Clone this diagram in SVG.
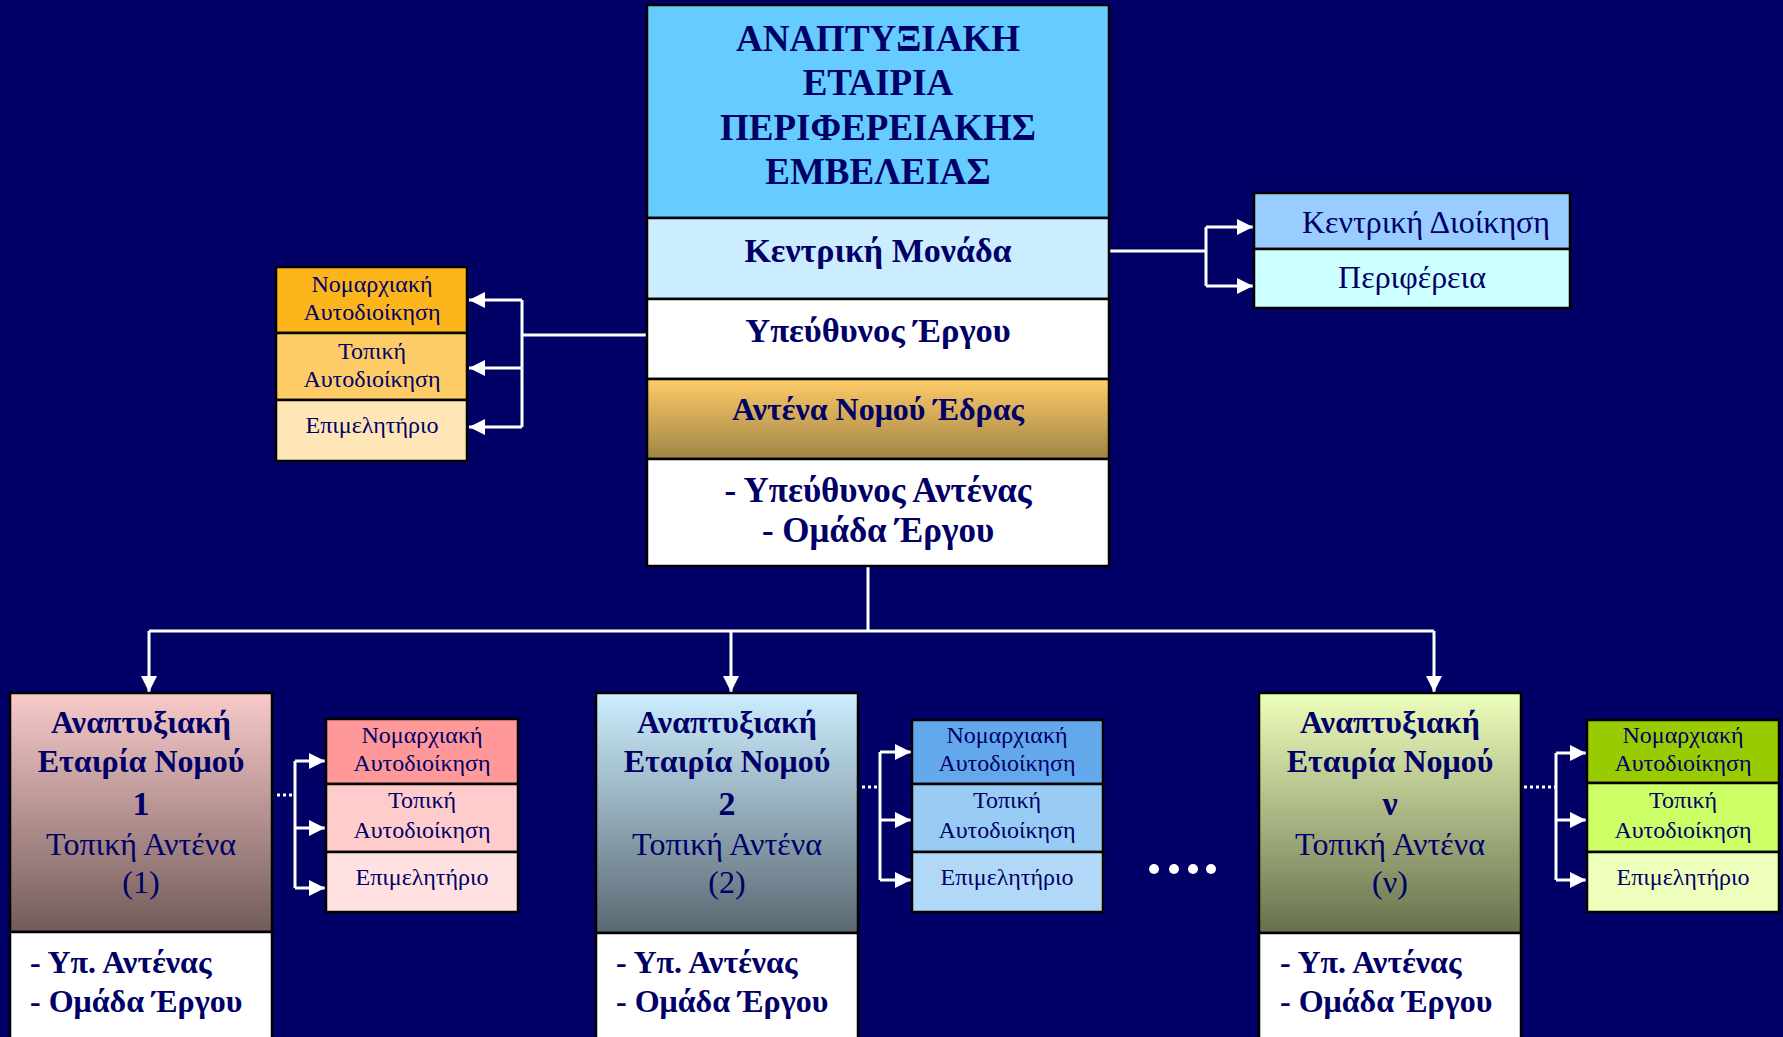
<svg xmlns="http://www.w3.org/2000/svg" width="1783" height="1037" viewBox="0 0 1783 1037">
<defs>
<linearGradient id="gGold" x1="0" y1="0" x2="0" y2="1"><stop offset="0" stop-color="#FECB68"/><stop offset="1" stop-color="#A08446"/></linearGradient>
<linearGradient id="gPink" x1="0" y1="0" x2="0" y2="1"><stop offset="0" stop-color="#F9CACA"/><stop offset="1" stop-color="#715C5A"/></linearGradient>
<linearGradient id="gBlue" x1="0" y1="0" x2="0" y2="1"><stop offset="0" stop-color="#CCEEFF"/><stop offset="1" stop-color="#5A6872"/></linearGradient>
<linearGradient id="gGreen" x1="0" y1="0" x2="0" y2="1"><stop offset="0" stop-color="#EEFFBB"/><stop offset="1" stop-color="#67704E"/></linearGradient>
<marker id="ah" viewBox="0 0 10 10" refX="10" refY="5" markerWidth="16" markerHeight="16" markerUnits="userSpaceOnUse" orient="auto"><path d="M0,0 L10,5 L0,10 Z" fill="#FFFFFF"/></marker>
</defs>
<style>
.bx{stroke:#000000;stroke-width:2.5}
.t{font-family:"Liberation Serif","Times New Roman",serif;fill:#000066;text-anchor:middle}
.b{font-weight:bold}
.tl{text-anchor:start}
.c{fill:none;stroke:#FFFFFF;stroke-width:3}
.d{fill:none;stroke:#FFFFFF;stroke-width:3;stroke-dasharray:3 3}
</style>
<rect width="1783" height="1037" fill="#000066"/>
<g id="connectors">
<path class="c" d="M868,566 V631 M149,631 H1434"/>
<path class="c" marker-end="url(#ah)" d="M149,631 V692"/>
<path class="c" marker-end="url(#ah)" d="M731,631 V692"/>
<path class="c" marker-end="url(#ah)" d="M1434,631 V692"/>
<path class="c" d="M647,335 H522 M522,300 V427"/>
<path class="c" marker-end="url(#ah)" d="M522,300 H469"/>
<path class="c" marker-end="url(#ah)" d="M522,368 H469"/>
<path class="c" marker-end="url(#ah)" d="M522,427 H469"/>
<path class="c" d="M1110,251 H1206 M1206,227 V286"/>
<path class="c" marker-end="url(#ah)" d="M1206,227 H1253"/>
<path class="c" marker-end="url(#ah)" d="M1206,286 H1253"/>
<path class="d" d="M277,795 H295"/>
<path class="c" d="M295,761 V888"/>
<path class="c" marker-end="url(#ah)" d="M295,761 H325"/>
<path class="c" marker-end="url(#ah)" d="M295,828 H325"/>
<path class="c" marker-end="url(#ah)" d="M295,888 H325"/>
<path class="d" d="M862,787 H880"/>
<path class="c" d="M880,752 V880"/>
<path class="c" marker-end="url(#ah)" d="M880,752 H911"/>
<path class="c" marker-end="url(#ah)" d="M880,820 H911"/>
<path class="c" marker-end="url(#ah)" d="M880,880 H911"/>
<path class="d" d="M1524,787 H1556"/>
<path class="c" d="M1556,753 V880"/>
<path class="c" marker-end="url(#ah)" d="M1556,753 H1586"/>
<path class="c" marker-end="url(#ah)" d="M1556,820 H1586"/>
<path class="c" marker-end="url(#ah)" d="M1556,880 H1586"/>
</g>
<g id="main">
<rect class="bx" x="647" y="5" width="462" height="213" fill="#66CCFF"/>
<rect class="bx" x="647" y="218" width="462" height="81" fill="#CCECFF"/>
<rect class="bx" x="647" y="299" width="462" height="80" fill="#FFFFFF"/>
<rect class="bx" x="647" y="379" width="462" height="80" fill="url(#gGold)"/>
<rect class="bx" x="647" y="459" width="462" height="107" fill="#FFFFFF"/>
<text class="t b" font-size="37" x="878" y="51">ΑΝΑΠΤΥΞΙΑΚΗ</text>
<text class="t b" font-size="37" x="878" y="95">ΕΤΑΙΡΙΑ</text>
<text class="t b" font-size="37" x="878" y="140">ΠΕΡΙΦΕΡΕΙΑΚΗΣ</text>
<text class="t b" font-size="37" x="878" y="184">ΕΜΒΕΛΕΙΑΣ</text>
<text class="t b" font-size="34" x="878" y="262">Κεντρική Μονάδα</text>
<text class="t b" font-size="34.5" x="878" y="342">Υπεύθυνος Έργου</text>
<text class="t b" font-size="32" x="878" y="420">Αντένα Νομού Έδρας</text>
<text class="t b" font-size="35" x="878" y="502">- Υπεύθυνος Αντένας</text>
<text class="t b" font-size="35" x="878" y="542">- Ομάδα Έργου</text>
</g>
<g id="left-top">
<rect class="bx" x="276" y="267" width="191" height="66" fill="#FDB51C"/>
<rect class="bx" x="276" y="333" width="191" height="67" fill="#FECC66"/>
<rect class="bx" x="276" y="400" width="191" height="61" fill="#FFE6B6"/>
<text class="t" font-size="24" x="372" y="292">Νομαρχιακή</text>
<text class="t" font-size="24" x="372" y="320">Αυτοδιοίκηση</text>
<text class="t" font-size="24" x="372" y="359">Τοπική</text>
<text class="t" font-size="24" x="372" y="387">Αυτοδιοίκηση</text>
<text class="t" font-size="24" x="372" y="433">Επιμελητήριο</text>
</g>
<g id="right-top">
<rect class="bx" x="1254" y="193" width="316" height="56" fill="#99CCFF"/>
<rect class="bx" x="1254" y="249" width="316" height="59" fill="#CCFFFF"/>
<text class="t" font-size="32" x="1426" y="233">Κεντρική Διοίκηση</text>
<text class="t" font-size="32" x="1412" y="288">Περιφέρεια</text>
</g>
<g id="company-1">
<rect class="bx" x="10" y="693" width="262" height="239" fill="url(#gPink)"/>
<rect class="bx" x="10" y="932" width="262" height="110" fill="#FFFFFF"/>
<text class="t b" font-size="32" x="141" y="733">Αναπτυξιακή</text>
<text class="t b" font-size="32" x="141" y="772">Εταιρία Νομού</text>
<text class="t b" font-size="34" x="141" y="815">1</text>
<text class="t" font-size="32" x="141" y="855">Τοπική Αντένα</text>
<text class="t" font-size="32" x="141" y="893">(1)</text>
<text class="t b tl" font-size="32" x="30" y="973">- Υπ. Αντένας</text>
<text class="t b tl" font-size="32" x="30" y="1012">- Ομάδα Έργου</text>
</g>
<g id="sub-1">
<rect class="bx" x="326" y="719" width="192" height="65" fill="#FF9999"/>
<rect class="bx" x="326" y="784" width="192" height="68" fill="#FFCCCC"/>
<rect class="bx" x="326" y="852" width="192" height="60" fill="#FFE1E1"/>
<text class="t" font-size="24" x="422" y="743">Νομαρχιακή</text>
<text class="t" font-size="24" x="422" y="771">Αυτοδιοίκηση</text>
<text class="t" font-size="24" x="422" y="808">Τοπική</text>
<text class="t" font-size="24" x="422" y="838">Αυτοδιοίκηση</text>
<text class="t" font-size="24" x="422" y="885">Επιμελητήριο</text>
</g>
<g id="company-2">
<rect class="bx" x="596" y="693" width="262" height="240" fill="url(#gBlue)"/>
<rect class="bx" x="596" y="933" width="262" height="110" fill="#FFFFFF"/>
<text class="t b" font-size="32" x="727" y="733">Αναπτυξιακή</text>
<text class="t b" font-size="32" x="727" y="772">Εταιρία Νομού</text>
<text class="t b" font-size="34" x="727" y="815">2</text>
<text class="t" font-size="32" x="727" y="855">Τοπική Αντένα</text>
<text class="t" font-size="32" x="727" y="893">(2)</text>
<text class="t b tl" font-size="32" x="616" y="973">- Υπ. Αντένας</text>
<text class="t b tl" font-size="32" x="616" y="1012">- Ομάδα Έργου</text>
</g>
<g id="sub-2">
<rect class="bx" x="912" y="720" width="191" height="64" fill="#64A8EC"/>
<rect class="bx" x="912" y="784" width="191" height="68" fill="#99CCF4"/>
<rect class="bx" x="912" y="852" width="191" height="60" fill="#B2D8F8"/>
<text class="t" font-size="24" x="1007" y="743">Νομαρχιακή</text>
<text class="t" font-size="24" x="1007" y="771">Αυτοδιοίκηση</text>
<text class="t" font-size="24" x="1007" y="808">Τοπική</text>
<text class="t" font-size="24" x="1007" y="838">Αυτοδιοίκηση</text>
<text class="t" font-size="24" x="1007" y="885">Επιμελητήριο</text>
</g>
<g id="ellipsis" fill="#FFFFFF">
<circle cx="1154" cy="869" r="5"/>
<circle cx="1174" cy="869" r="5"/>
<circle cx="1193" cy="869" r="5"/>
<circle cx="1211" cy="869" r="5"/>
</g>
<g id="company-n">
<rect class="bx" x="1259" y="693" width="262" height="240" fill="url(#gGreen)"/>
<rect class="bx" x="1259" y="933" width="262" height="110" fill="#FFFFFF"/>
<text class="t b" font-size="32" x="1390" y="733">Αναπτυξιακή</text>
<text class="t b" font-size="32" x="1390" y="772">Εταιρία Νομού</text>
<text class="t b" font-size="34" x="1390" y="815">ν</text>
<text class="t" font-size="32" x="1390" y="855">Τοπική Αντένα</text>
<text class="t" font-size="32" x="1390" y="893">(ν)</text>
<text class="t b tl" font-size="32" x="1280" y="973">- Υπ. Αντένας</text>
<text class="t b tl" font-size="32" x="1280" y="1012">- Ομάδα Έργου</text>
</g>
<g id="sub-n">
<rect class="bx" x="1587" y="720" width="192" height="63" fill="#99CC00"/>
<rect class="bx" x="1587" y="783" width="192" height="69" fill="#CCFF66"/>
<rect class="bx" x="1587" y="852" width="192" height="60" fill="#EEFFBB"/>
<text class="t" font-size="24" x="1683" y="743">Νομαρχιακή</text>
<text class="t" font-size="24" x="1683" y="771">Αυτοδιοίκηση</text>
<text class="t" font-size="24" x="1683" y="808">Τοπική</text>
<text class="t" font-size="24" x="1683" y="838">Αυτοδιοίκηση</text>
<text class="t" font-size="24" x="1683" y="885">Επιμελητήριο</text>
</g>
</svg>
